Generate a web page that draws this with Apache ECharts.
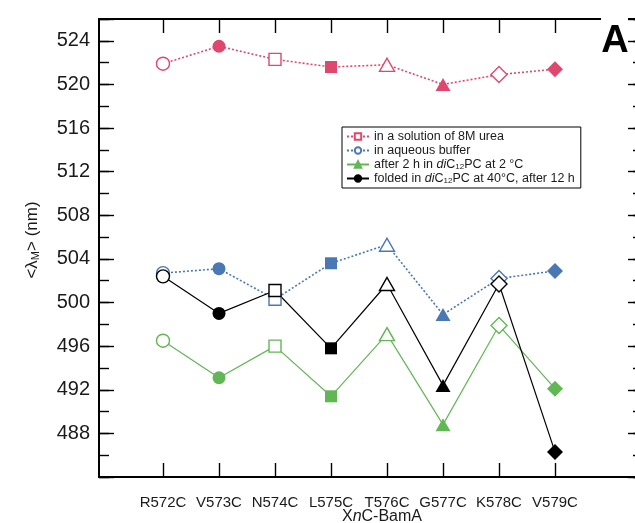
<!DOCTYPE html>
<html>
<head>
<meta charset="utf-8">
<script src="https://cdn.jsdelivr.net/npm/echarts@6/dist/echarts.min.js"></script>
<style>
html, body { margin: 0; padding: 0; background: #fff; }
#chart { width: 635px; height: 523px; }
</style>
</head>
<body>
<div id="chart"></div>
<script>
// mutants along the x axis
var categories = ['R572C', 'V573C', 'N574C', 'L575C', 'T576C', 'G577C', 'K578C', 'V579C'];

// <lambda_M> in nm
var ureaValues   = [521.9, 523.5, 522.3, 521.6, 521.8, 520.0, 520.9, 521.4];
var bufferValues = [502.7, 503.1, 500.3, 503.6, 505.3, 498.9, 502.2, 502.9];
var coldValues   = [496.5, 493.1, 496.0, 491.4, 497.1, 488.8, 497.9, 492.1];
var foldedValues = [502.4, 499.0, 501.1, 495.8, 501.7, 492.4, 501.7, 486.3];

var seriesNames = [
    'in a solution of 8M urea',
    'in aqueous buffer',
    'after 2 h in diC12PC at 2 °C',
    'folded in diC12PC at 40°C, after 12 h'
];

var yMin = 484, yMax = 526;

// marker shape per mutant, every second one filled
var shapes = ['circle', 'circle', 'rect', 'rect', 'triangle', 'triangle', 'diamond', 'diamond'];
var shapeSize = { circle: 13, rect: 12, triangle: [15, 13], diamond: [16, 16] };

var RED = '#e0476e', BLUE = '#4a78b5', GREEN = '#62b755', BLACK = '#000';
var FONT = '"Liberation Sans", Arial, Helvetica, sans-serif';

function points(values, color) {
    return values.map(function (v, i) {
        var filled = i % 2 === 1;
        return {
            value: v,
            symbol: shapes[i],
            symbolSize: shapeSize[shapes[i]],
            itemStyle: {
                color: filled ? color : '#fff',
                borderColor: color,
                borderWidth: filled ? 0 : 1.4
            }
        };
    });
}

function lineSeries(name, values, color, dotted, legendSymbol, legendFilled) {
    return {
        name: name,
        type: 'line',
        xAxisIndex: 2,
        yAxisIndex: 4,
        symbol: legendSymbol,
        symbolSize: 9,
        itemStyle: { color: legendFilled ? color : '#fff', borderColor: color, borderWidth: 1.2 },
        lineStyle: { color: color, width: dotted ? 1.6 : 1.2, type: dotted ? [2, 2] : 'solid' },
        animation: false,
        data: points(values, color)
    };
}

function frameY(pos, interval, len, labels) {
    return {
        type: 'value', gridIndex: 0, position: pos, min: yMin, max: yMax, interval: interval,
        axisLine: { show: interval === 4, onZero: false, lineStyle: { color: '#000', width: 2 } },
        axisTick: { show: true, inside: true, length: len, lineStyle: { color: '#000', width: 1.4 } },
        axisLabel: {
            show: labels, margin: 9, fontSize: 20, color: '#1a1a1a', fontFamily: FONT,
            formatter: function (v) { return (v < 488 || v > 524) ? '' : String(v); }
        },
        splitLine: { show: false }
    };
}

function frameX(pos) {
    return {
        type: 'value', gridIndex: 0, position: pos, min: 0, max: 1,
        axisLine: { onZero: false, lineStyle: { color: '#000', width: 2 } },
        axisTick: { show: false }, axisLabel: { show: false }, splitLine: { show: false }
    };
}

function catX(pos, labels) {
    return {
        type: 'category', gridIndex: 1, position: pos, data: categories, boundaryGap: true,
        axisLine: { show: true, onZero: false, lineStyle: { color: '#000', width: 2 } },
        axisTick: { show: true, inside: true, alignWithLabel: true, interval: 0, length: 14, lineStyle: { color: '#000', width: 1.4 } },
        axisLabel: { show: labels, interval: 0, margin: 18, fontSize: 15, color: '#1a1a1a', fontFamily: FONT },
        splitLine: { show: false }
    };
}

var option = {
    backgroundColor: '#fff',
    grid: [
        { left: 99, right: -8, top: 19, bottom: 46, outerBoundsMode: 'none', containLabel: false },
        { left: 135, right: 52, top: 19, bottom: 46, outerBoundsMode: 'none', containLabel: false }
    ],
    xAxis: [frameX('bottom'), frameX('top'), catX('bottom', true), catX('top', false)],
    yAxis: [
        frameY('left', 4, 15, true),
        frameY('left', 2, 10, false),
        frameY('right', 4, 15, false),
        frameY('right', 2, 10, false),
        { type: 'value', gridIndex: 1, min: yMin, max: yMax, show: false }
    ],
    legend: {
        orient: 'vertical',
        left: 342, top: 127,
        itemGap: 1, itemWidth: 22, itemHeight: 8,
        padding: [3, 6, 3, 4],
        borderColor: '#000', borderWidth: 1, backgroundColor: '#fff',
        data: seriesNames,
        formatter: function (name) {
            return name.replace('diC12PC', '{i|di}C{s|12}PC');
        },
        textStyle: {
            fontSize: 12.5, fontFamily: FONT, color: '#1a1a1a', lineHeight: 12.5,
            rich: {
                i: { fontSize: 12.5, fontStyle: 'italic', fontFamily: FONT, color: '#1a1a1a' },
                s: { fontSize: 8, fontFamily: FONT, color: '#1a1a1a', verticalAlign: 'bottom', lineHeight: 8 }
            }
        }
    },
    series: [
        lineSeries(seriesNames[0], ureaValues, RED, true, 'rect', false),
        lineSeries(seriesNames[1], bufferValues, BLUE, true, 'circle', false),
        lineSeries(seriesNames[2], coldValues, GREEN, false, 'triangle', true),
        lineSeries(seriesNames[3], foldedValues, BLACK, false, 'circle', true)
    ],
    graphic: [
        {
            type: 'text', x: 32, y: 240, rotation: Math.PI / 2, z: 10,
            style: {
                text: '{a|<λ}{s|M}{a|> (nm)}',
                align: 'center', verticalAlign: 'middle',
                rich: {
                    a: { fontSize: 17, fontFamily: FONT, fill: '#1a1a1a', lineHeight: 18 },
                    s: { fontSize: 11, fontFamily: FONT, fill: '#1a1a1a', verticalAlign: 'bottom', lineHeight: 11 }
                }
            }
        },
        {
            type: 'text', x: 382, y: 509, z: 10,
            style: {
                text: '{a|X}{i|n}{a|C-BamA}',
                align: 'center', verticalAlign: 'top',
                rich: {
                    a: { fontSize: 16, fontFamily: FONT, fill: '#1a1a1a' },
                    i: { fontSize: 16, fontFamily: FONT, fontStyle: 'italic', fill: '#1a1a1a' }
                }
            }
        },
        { type: 'rect', z: 10, shape: { x: 601, y: 8, width: 27, height: 50 }, style: { fill: '#fff' } },
        {
            type: 'text', x: 615, y: 42, z: 11,
            style: { text: 'A', fontSize: 38, fontWeight: 'bold', fontFamily: FONT, fill: '#000', align: 'center', verticalAlign: 'middle' }
        }
    ]
};

var myChart = echarts.init(document.getElementById('chart'));
myChart.setOption(option);
</script>
</body>
</html>
